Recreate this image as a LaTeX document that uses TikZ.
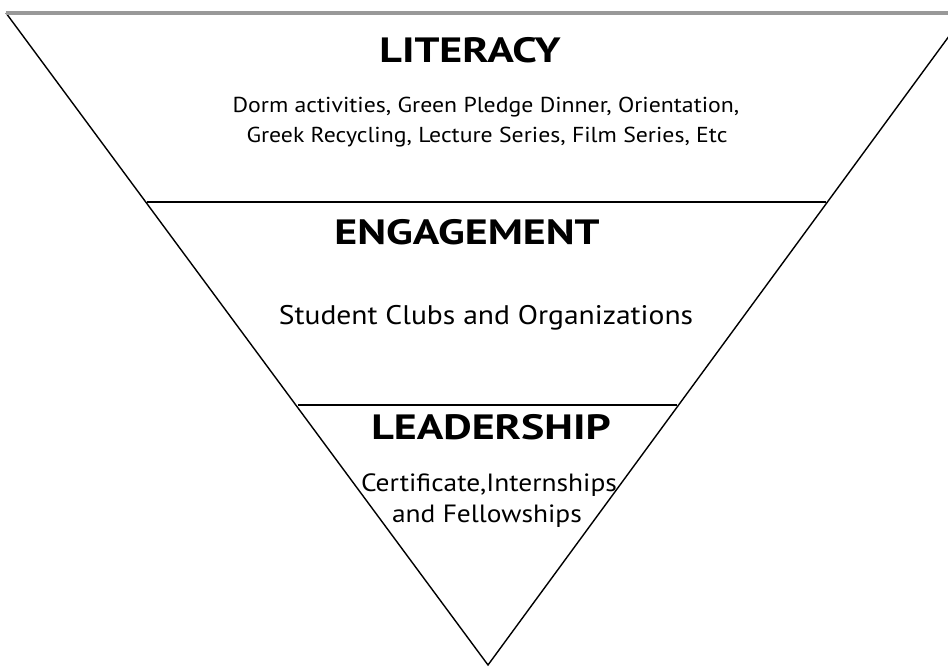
\documentclass[tikz,border=0pt]{standalone}
\usepackage{fontspec}
\setmainfont{PT Sans}
\newfontfamily\headfont[FakeStretch=1.25]{PT Sans}
\newfontfamily\bodyfont[FakeStretch=1.1]{PT Sans}
\usepackage{tikz}

\begin{document}
\begin{tikzpicture}[x=0.02cm,y=-0.02cm,
title/.style={anchor=base,font=\headfont\bfseries\fontsize{20}{24}\selectfont},
body/.style={anchor=base,font=\bodyfont\fontsize{12.3}{15}\selectfont}]
\useasboundingbox (0,0) rectangle (948,668);
\clip (0,0) rectangle (948,668);
\draw[line width=0.8pt](6,13)--(488,665)--(966,13);
\draw[line width=1.8pt,gray!80](6,13)--(966,13);
\draw[line width=0.9pt](147,202)--(826,202);
\draw[line width=0.9pt](298,405)--(677,405);
\node[title] (lit) at (470,63){LITERACY};
\node[body] (litone) at (486,113){Dorm activities, Green Pledge Dinner, Orientation,};
\node[body] (littwo) at (487,143){Greek Recycling, Lecture Series, Film Series, Etc};
\node[title] (eng) at (467,245){ENGAGEMENT};
\node[body,font=\bodyfont\fontsize{15.3}{18}\selectfont] (engone) at (486,325){Student Clubs and Organizations};
\node[title] (lead) at (491,440){LEADERSHIP};
\node[body,font=\bodyfont\fontsize{14.2}{17}\selectfont] (leadone) at (489,492){Certificate,Internships};
\node[body,font=\bodyfont\fontsize{14.2}{17}\selectfont] (leadtwo) at (487,523){and Fellowships};
\end{tikzpicture}
\end{document}
